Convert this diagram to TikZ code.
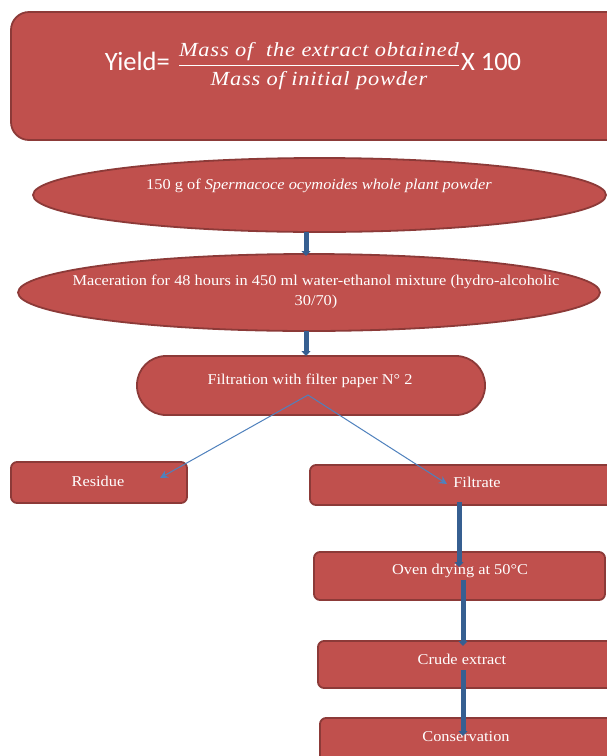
\documentclass[tikz,border=0pt]{standalone}
\usepackage{fontspec}
\setmainfont[FakeStretch=1.09]{Liberation Serif}
\newfontfamily\carlito{Carlito}
\newfontfamily\fracfont[FakeStretch=1.12,LetterSpace=4]{Liberation Serif}
\usepackage{amsmath}
\usetikzlibrary{arrows.meta,shapes.geometric}
\definecolor{boxfill}{HTML}{C0504D}
\definecolor{boxline}{HTML}{8C3A38}
\definecolor{darkarrow}{HTML}{365F91}
\definecolor{lightarrow}{HTML}{4F81BD}
\begin{document}
\begin{tikzpicture}[x=1pt,y=-1pt,
  shapebox/.style={draw=boxline,fill=boxfill,line width=1.8pt,inner sep=0pt},
  rbox/.style={shapebox,rectangle,rounded corners=6pt},
  oval/.style={shapebox,ellipse},
  lbl/.style={text=white,font=\fontsize{15}{20}\selectfont,inner sep=0pt,align=center},
  thick arrow/.style={draw=darkarrow,line width=5pt,-{Triangle[width=9pt,length=5pt]}},
  thin arrow/.style={draw=lightarrow,line width=1pt,-{Stealth[width=8pt,length=8pt]}}]
\useasboundingbox (0,0) rectangle (607,756);
\clip (0,0) rectangle (607,756);
\fill[white] (0,0) rectangle (607,756);
% top formula box
\node[shapebox,rectangle,rounded corners=18pt,minimum width=614pt,minimum height=128pt] (yieldbox) at (318,76) {};
\node[text=white,inner sep=0pt] (formula) at (313,66) {{\carlito\fontsize{26.5}{30}\selectfont Yield=}\hspace{8pt}\fontsize{20}{24}\selectfont$\dfrac{\text{\fracfont\itshape Mass of\ \ the extract obtained}}{\text{\fracfont\itshape Mass of initial powder}}$\hspace{1pt}{\carlito\fontsize{26.5}{30}\selectfont X 100}};
% ellipses
\node[oval,minimum width=573pt,minimum height=74pt] (e1) at (319.5,195) {};
\node[lbl] (t1) at (319,186) {150 g of \textit{Spermacoce ocymoides whole plant powder}};
\node[oval,minimum width=582pt,minimum height=77pt] (e2) at (309,292.5) {};
\node[lbl] (t2) at (316,291.5) {Maceration for 48 hours in 450 ml water-ethanol mixture (hydro-alcoholic\\30/70)};
\node[shapebox,rectangle,rounded corners=29pt,minimum width=348pt,minimum height=59pt] (filt) at (311,385.5) {};
\node[lbl] (t3) at (310,381) {Filtration with filter paper N° 2};
% rectangles
\node[rbox,minimum width=176pt,minimum height=41pt] (res) at (99,482.5) {};
\node[lbl] (t4) at (98,481) {Residue};
\node[rbox,minimum width=305pt,minimum height=40pt] (fil) at (462.5,485) {};
\node[lbl] (t5) at (477,482) {Filtrate};
\node[rbox,minimum width=291pt,minimum height=48pt] (oven) at (459.5,576) {};
\node[lbl] (t6) at (460,571) {Oven drying at 50°C};
\node[rbox,minimum width=297pt,minimum height=47pt] (crude) at (466.5,664.5) {};
\node[lbl] (t7) at (462,659) {Crude extract};
\node[rbox,minimum width=295pt,minimum height=52pt] (cons) at (467.5,744) {};
\node[lbl] (t8) at (466,737) {Conservation};
% connector coordinates
\coordinate (a1) at (306,232);
\coordinate (a2) at (306,256);
\coordinate (b1) at (306,331);
\coordinate (b2) at (306,356);
\coordinate (s) at (308,395);
\coordinate (rt) at (160,478);
\coordinate (ft) at (447,484);
\coordinate (c1) at (459,502);
\coordinate (c2) at (459,567);
\coordinate (d1) at (463,580);
\coordinate (d2) at (463,646);
\coordinate (g1) at (463,670);
\coordinate (g2) at (463,736);
\draw[thick arrow] (a1) -- (a2);
\draw[thick arrow] (b1) -- (b2);
\draw[thin arrow] (s) -- (rt);
\draw[thin arrow] (s) -- (ft);
\draw[thick arrow] (c1) -- (c2);
\draw[thick arrow] (d1) -- (d2);
\draw[thick arrow] (g1) -- (g2);
\end{tikzpicture}
\end{document}
